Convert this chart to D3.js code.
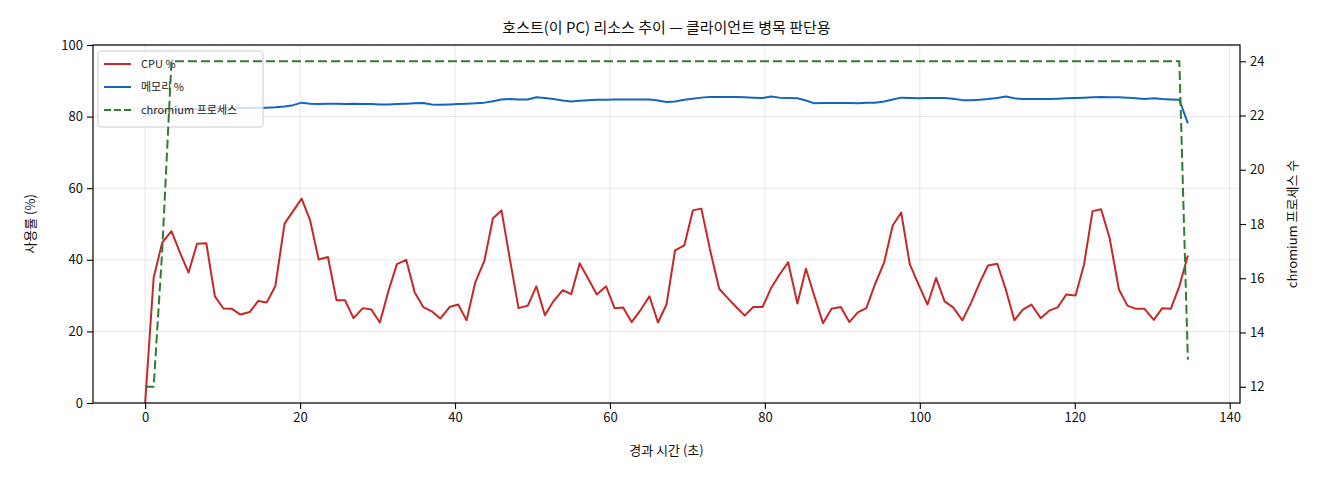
<!DOCTYPE html>
<html>
<head>
<meta charset="utf-8">
<script src="https://cdn.jsdelivr.net/npm/d3@7"></script>
<style>
  body { margin: 0; background: #fff; }
  svg { display: block; font-family: "Noto Sans CJK KR", "Noto Sans", sans-serif; }
</style>
</head>
<body>
<svg id="chart" width="1320" height="480"></svg>
<script>
//-----------------------------------------------------------------------------
// DATA
var times = [
  0.0, 1.1, 2.2, 3.4, 4.5, 5.6, 6.7, 7.9, 9.0, 10.1,
  11.2, 12.3, 13.5, 14.6, 15.7, 16.8, 18.0, 19.1, 20.2, 21.3,
  22.4, 23.6, 24.7, 25.8, 26.9, 28.1, 29.2, 30.3, 31.4, 32.5,
  33.7, 34.8, 35.9, 37.0, 38.1, 39.3, 40.4, 41.5, 42.6, 43.8,
  44.9, 46.0, 47.1, 48.2, 49.4, 50.5, 51.6, 52.7, 53.9, 55.0,
  56.1, 57.2, 58.3, 59.5, 60.6, 61.7, 62.8, 64.0, 65.1, 66.2,
  67.3, 68.4, 69.6, 70.7, 71.8, 72.9, 74.1, 75.2, 76.3, 77.4,
  78.5, 79.7, 80.8, 81.9, 83.0, 84.2, 85.3, 86.4, 87.5, 88.6,
  89.8, 90.9, 92.0, 93.1, 94.2, 95.4, 96.5, 97.6, 98.7, 99.9,
  101.0, 102.1, 103.2, 104.3, 105.5, 106.6, 107.7, 108.8, 110.0, 111.1,
  112.2, 113.3, 114.4, 115.6, 116.7, 117.8, 118.9, 120.1, 121.2, 122.3,
  123.4, 124.5, 125.7, 126.8, 127.9, 129.0, 130.2, 131.3, 132.4, 133.5,
  134.6
];
var cpuPct = [
  0, 35.0, 44.8, 48.0, 42.0, 36.4, 44.5, 44.6, 29.8, 26.4,
  26.3, 24.7, 25.4, 28.5, 28.1, 32.6, 50.1, 53.6, 57.1, 51.0,
  40.1, 40.8, 28.7, 28.7, 23.7, 26.5, 26.1, 22.5, 31.2, 38.8,
  40.0, 30.9, 26.8, 25.6, 23.6, 26.8, 27.5, 23.1, 33.6, 39.8,
  51.6, 53.8, 40.0, 26.5, 27.2, 32.6, 24.5, 28.4, 31.5, 30.4,
  39.0, 34.7, 30.3, 32.6, 26.5, 26.7, 22.6, 26.1, 29.8, 22.5,
  27.5, 42.6, 44.0, 53.8, 54.3, 43.0, 31.9, 29.3, 26.8, 24.4,
  26.8, 26.8, 32.1, 35.9, 39.3, 27.8, 37.5, 29.8, 22.3, 26.3,
  26.8, 22.6, 25.3, 26.5, 33.1, 39.3, 49.6, 53.2, 38.8, 32.8,
  27.5, 34.9, 28.4, 26.7, 23.1, 27.9, 33.5, 38.4, 38.9, 31.7,
  23.1, 26.1, 27.5, 23.7, 25.8, 26.7, 30.3, 30.0, 38.7, 53.6,
  54.1, 46.1, 31.7, 27.2, 26.3, 26.3, 23.2, 26.5, 26.3, 32.6,
  41.2
];
var memPct = [
  80.5, 81.0, 81.4, 81.7, 81.9, 82.0, 82.1, 82.2, 82.2, 82.3,
  82.3, 82.4, 82.4, 82.5, 82.5, 82.6, 82.8, 83.2, 83.9, 83.6,
  83.5, 83.6, 83.6, 83.5, 83.6, 83.5, 83.5, 83.4, 83.4, 83.5,
  83.6, 83.7, 83.8, 83.4, 83.3, 83.4, 83.5, 83.6, 83.7, 83.9,
  84.3, 84.8, 84.9, 84.8, 84.8, 85.4, 85.2, 84.9, 84.5, 84.2,
  84.4, 84.6, 84.7, 84.7, 84.8, 84.8, 84.8, 84.8, 84.8, 84.5,
  84.1, 84.2, 84.7, 85.0, 85.3, 85.5, 85.5, 85.5, 85.5, 85.4,
  85.3, 85.2, 85.6, 85.3, 85.2, 85.1, 84.5, 83.7, 83.8, 83.8,
  83.8, 83.8, 83.7, 83.9, 83.9, 84.2, 84.8, 85.3, 85.2, 85.1,
  85.2, 85.2, 85.2, 85.0, 84.6, 84.6, 84.7, 84.9, 85.2, 85.6,
  85.1, 84.9, 84.9, 84.9, 84.9, 85.0, 85.1, 85.2, 85.3, 85.4,
  85.5, 85.4, 85.4, 85.3, 85.1, 84.9, 85.1, 84.9, 84.8, 84.7,
  78.1
];
var chromiumProcs = [
  12, 12, 17, 24, 24, 24, 24, 24, 24, 24,
  24, 24, 24, 24, 24, 24, 24, 24, 24, 24,
  24, 24, 24, 24, 24, 24, 24, 24, 24, 24,
  24, 24, 24, 24, 24, 24, 24, 24, 24, 24,
  24, 24, 24, 24, 24, 24, 24, 24, 24, 24,
  24, 24, 24, 24, 24, 24, 24, 24, 24, 24,
  24, 24, 24, 24, 24, 24, 24, 24, 24, 24,
  24, 24, 24, 24, 24, 24, 24, 24, 24, 24,
  24, 24, 24, 24, 24, 24, 24, 24, 24, 24,
  24, 24, 24, 24, 24, 24, 24, 24, 24, 24,
  24, 24, 24, 24, 24, 24, 24, 24, 24, 24,
  24, 24, 24, 24, 24, 24, 24, 24, 24, 24,
  13
];
var xTicks = [0, 20, 40, 60, 80, 100, 120, 140];
var yLeftTicks = [0, 20, 40, 60, 80, 100];
var yRightTicks = [12, 14, 16, 18, 20, 22, 24];
var seriesLabels = ["CPU %", "메모리 %", "chromium 프로세스"];

//-----------------------------------------------------------------------------
// LAYOUT
var plot = { left: 93, right: 1240, top: 45, bottom: 403 };
var colors = { cpu: "#c62828", mem: "#1565c0", proc: "#2e7d32" };

var svg = d3.select("#chart");

var xMin = d3.min(times), xMax = d3.max(times), xPad = (xMax - xMin) * 0.05;
var x = d3.scaleLinear().domain([xMin - xPad, xMax + xPad]).range([plot.left, plot.right]);
var yL = d3.scaleLinear().domain([0, 100]).range([plot.bottom, plot.top]);
var pMin = d3.min(chromiumProcs), pMax = d3.max(chromiumProcs), pPad = (pMax - pMin) * 0.05;
var yR = d3.scaleLinear().domain([pMin - pPad, pMax + pPad]).range([plot.bottom, plot.top]);

var rows = times.map(function(t, i){
  return { t: t, cpu: cpuPct[i], mem: memPct[i], proc: chromiumProcs[i] };
});

// grid
var grid = svg.append("g").attr("stroke", "#b0b0b0").attr("stroke-opacity", 0.35).attr("stroke-width", 0.9);
grid.selectAll("line.gx").data(xTicks).enter().append("line")
  .attr("x1", function(d){ return x(d); }).attr("x2", function(d){ return x(d); })
  .attr("y1", plot.top).attr("y2", plot.bottom);
grid.selectAll("line.gy").data(yLeftTicks).enter().append("line")
  .attr("x1", plot.left).attr("x2", plot.right)
  .attr("y1", function(d){ return yL(d); }).attr("y2", function(d){ return yL(d); });

// left-axis lines
var clip = svg.append("clipPath").attr("id", "clip").append("rect")
  .attr("x", plot.left).attr("y", plot.top)
  .attr("width", plot.right - plot.left).attr("height", plot.bottom - plot.top);

var lineCpu = d3.line().x(function(d){ return x(d.t); }).y(function(d){ return yL(d.cpu); });
var lineMem = d3.line().x(function(d){ return x(d.t); }).y(function(d){ return yL(d.mem); });
var lineProc = d3.line().x(function(d){ return x(d.t); }).y(function(d){ return yR(d.proc); });

svg.append("path").datum(rows).attr("d", lineCpu)
  .attr("fill", "none").attr("stroke", colors.cpu).attr("stroke-width", 2)
  .attr("stroke-linejoin", "round").attr("clip-path", "url(#clip)");
svg.append("path").datum(rows).attr("d", lineMem)
  .attr("fill", "none").attr("stroke", colors.mem).attr("stroke-width", 2)
  .attr("stroke-linejoin", "round").attr("clip-path", "url(#clip)");

// legend
var legend = svg.append("g").attr("transform", "translate(98,51)");
legend.append("rect").attr("width", 165).attr("height", 76).attr("rx", 3)
  .attr("fill", "#fff").attr("fill-opacity", 0.8).attr("stroke", "#cccccc");
var legendStyles = [
  { color: colors.cpu, dash: null },
  { color: colors.mem, dash: null },
  { color: colors.proc, dash: "7,3" }
];
seriesLabels.forEach(function(lbl, i){
  var yy = 13 + i * 23;
  legend.append("line").attr("x1", 6).attr("x2", 33).attr("y1", yy).attr("y2", yy)
    .attr("stroke", legendStyles[i].color).attr("stroke-width", 2)
    .attr("stroke-dasharray", legendStyles[i].dash);
  legend.append("text").attr("x", 43).attr("y", yy + 4)
    .attr("font-size", 11).attr("fill", "#222").text(lbl);
});

// right-axis line (drawn on top)
svg.append("path").datum(rows).attr("d", lineProc)
  .attr("fill", "none").attr("stroke", colors.proc).attr("stroke-width", 2)
  .attr("stroke-dasharray", "9,4").attr("clip-path", "url(#clip)");

// frame
svg.append("rect").attr("x", plot.left).attr("y", plot.top)
  .attr("width", plot.right - plot.left).attr("height", plot.bottom - plot.top)
  .attr("fill", "none").attr("stroke", "#000").attr("stroke-width", 1.2);

// axes
function styleAxis(g){
  g.select(".domain").remove();
  g.selectAll(".tick line").attr("stroke", "#000").attr("stroke-width", 1.1);
  g.selectAll(".tick text").attr("font-size", 13).attr("fill", "#111")
    .attr("font-family", "\"Noto Sans CJK KR\", \"Noto Sans\", sans-serif");
}
svg.append("g").attr("transform", "translate(0," + plot.bottom + ")")
  .call(d3.axisBottom(x).tickValues(xTicks).tickSize(6).tickPadding(4).tickFormat(d3.format("d")))
  .call(styleAxis);
svg.append("g").attr("transform", "translate(" + plot.left + ",0)")
  .call(d3.axisLeft(yL).tickValues(yLeftTicks).tickSize(6).tickPadding(4).tickFormat(d3.format("d")))
  .call(styleAxis);
svg.append("g").attr("transform", "translate(" + plot.right + ",0)")
  .call(d3.axisRight(yR).tickValues(yRightTicks).tickSize(6).tickPadding(4).tickFormat(d3.format("d")))
  .call(styleAxis);

// labels
var midX = (plot.left + plot.right) / 2, midY = (plot.top + plot.bottom) / 2;
svg.append("text").attr("x", midX).attr("y", 33).attr("text-anchor", "middle")
  .attr("font-size", 15).attr("fill", "#111").text("호스트(이 PC) 리소스 추이 — 클라이언트 병목 판단용");
svg.append("text").attr("x", midX).attr("y", 455).attr("text-anchor", "middle")
  .attr("font-size", 13).attr("fill", "#111").text("경과 시간 (초)");
svg.append("text").attr("transform", "translate(35," + midY + ") rotate(-90)")
  .attr("text-anchor", "middle").attr("font-size", 13).attr("fill", "#111").text("사용률 (%)");
svg.append("text").attr("transform", "translate(1297," + midY + ") rotate(-90)")
  .attr("text-anchor", "middle").attr("font-size", 13).attr("fill", "#111").text("chromium 프로세스 수");
</script>
</body>
</html>
